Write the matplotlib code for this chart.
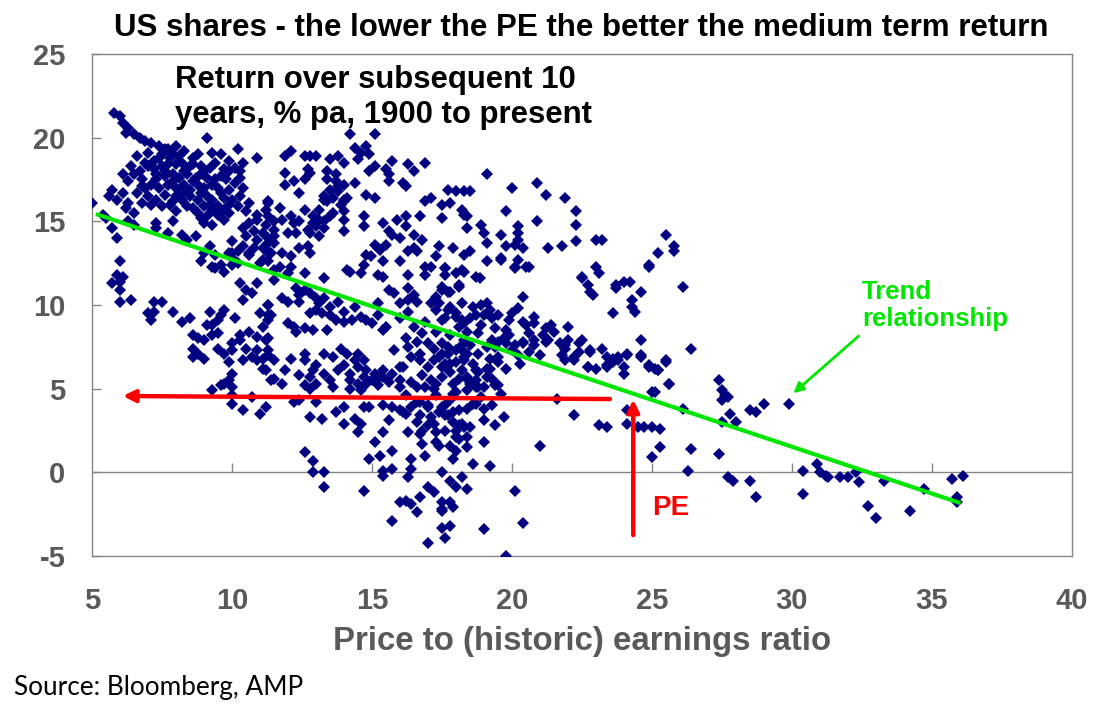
import matplotlib
matplotlib.use("Agg")
import matplotlib.pyplot as plt

# ---------------- data (PE ratio, subsequent 10y return % pa) ----------------
grp_top_left = [
    (5.8,21.5),(6.0,21.3),(6.1,20.9),(6.3,20.6),(6.2,20.3),(6.5,20.2),(6.7,20.0),(6.9,19.8),(7.1,19.7),
    (7.4,19.5),(7.6,19.3),(7.9,19.0),(7.7,19.3),(9.1,20.0),(9.3,19.1),(10.2,19.3),(10.9,18.8),(10.4,18.5),
    (5.0,16.1),(5.7,16.9),(6.1,16.7),(5.6,16.5),(5.4,15.4),(5.5,15.2),(5.7,14.6),(5.9,14.0),(6.3,16.1),
    (6.2,15.8),(6.8,16.1),(7.3,14.9),(7.9,15.0),(7.3,14.6),(7.7,14.3),(8.2,14.2),(8.4,13.9),(8.7,14.1),
    (9.2,13.5),(9.0,13.1),
    (6.7,18.0),(6.5,17.8),(6.8,17.5),(7.2,18.6),(7.4,18.8),(7.5,18.3),(7.2,18.1),(7.7,18.4),(7.8,18.8),
    (8.0,18.4),(8.2,18.5),(8.5,18.3),(8.6,18.4),(8.9,18.3),(9.0,18.0),(9.4,18.5),(9.7,18.1),(9.9,18.0),
    (7.3,17.8),(7.6,17.7),(7.9,17.8),(8.1,17.6),(8.4,17.8),(8.7,17.6),(9.1,17.6),(9.4,17.5),(9.8,17.5),
    (7.1,17.2),(7.4,17.0),(7.7,17.2),(8.0,17.0),(8.3,17.2),(8.5,16.9),(8.8,17.2),(9.0,17.0),(9.3,17.2),
    (9.5,17.0),(9.9,16.9),(6.6,16.7),(7.0,16.5),(7.3,16.3),(7.6,16.6),(8.0,16.5),(8.2,16.3),(8.5,16.5),
    (8.8,16.3),(9.1,16.5),(9.3,16.3),(9.7,16.4),(10.0,16.3),(8.4,15.9),(8.6,15.8),(9.0,15.9),(9.3,15.7),
    (9.5,15.9),(9.1,15.3),(9.5,15.4),(9.9,15.5),(9.0,14.9),(9.3,14.8),(9.7,15.1),(7.5,15.9),(7.8,16.0),
    (7.0,18.3),(7.6,18.0),(8.3,18.0),(8.9,17.8),(9.2,18.2),(8.1,18.9),(8.6,18.8),(7.9,17.4),(8.6,17.4),
    (9.6,17.7),(7.3,17.5),(8.2,16.7),(8.9,16.7),(9.6,16.7),(7.9,16.2),(9.2,16.0),(9.7,15.7),(8.8,15.5),
    (8.0,15.6),(10.1,17.3),(10.3,17.6),(10.1,18.2),(6.9,17.0),(6.3,17.4),(6.9,18.5),
    (6.4,18.3),(6.6,18.9),(7.0,19.1),(7.5,19.0),(8.3,19.2),(8.8,19.0),(9.6,19.0),(9.9,18.6),(10.3,18.0),
    (8.0,19.5),(6.8,17.1),(7.1,16.0),(6.5,15.5),(8.9,15.2),(9.9,16.0),(10.4,17.0),(6.1,17.8),(5.9,16.3),
    (6.5,14.8),(6.3,15.0),
]

grp_upper_mid = [
    (10.2,15.9),(10.3,16.5),(10.6,16.1),(10.5,15.6),(10.9,15.4),(11.2,15.7),(11.3,16.1),(10.6,14.9),
    (10.9,15.1),(11.2,14.8),(10.4,14.6),(10.8,14.4),(11.1,14.3),(11.5,14.5),(10.5,14.1),(10.9,13.9),
    (11.3,14.0),(10.0,13.8),(10.4,13.5),(10.8,13.4),(11.1,13.4),(11.5,13.7),(10.0,13.1),(10.6,13.0),
    (11.3,13.1),(9.4,13.0),(9.9,13.1),(10.0,12.8),(10.2,13.2),(10.6,13.1),(11.1,12.7),(11.3,13.2),
    (9.4,12.2),(9.7,12.0),(10.0,12.4),(10.2,12.5),(11.0,12.5),(11.5,12.1),
    (11.3,16.2),(11.7,15.8),(11.3,15.3),(11.5,15.0),(11.8,15.1),(12.1,15.3),(12.2,14.9),(12.4,15.0),
    (12.6,15.7),(12.9,15.3),(13.1,15.7),(12.9,14.9),(13.1,15.1),(13.3,15.0),(13.5,15.3),(13.3,16.3),
    (13.3,16.5),(14.0,16.2),(14.1,16.4),(14.0,15.6),(13.6,15.5),(12.0,14.3),(12.3,14.3),(12.7,14.5),
    (13.0,14.7),(13.3,14.6),(13.1,14.1),(12.8,14.3),(11.5,14.1),(11.3,13.7),(11.4,13.1),(11.8,13.1),
    (12.1,12.9),(12.4,13.4),(12.7,13.5),(12.8,13.1),(14.0,14.4),(14.0,15.1),(11.3,12.6),(11.7,12.3),
    (12.1,12.3),(12.6,11.9),(13.3,11.6),
    (12.1,19.2),(11.9,18.9),(12.6,18.9),(12.8,18.9),(13.0,18.9),(13.5,18.7),(13.8,18.9),(14.0,18.5),
    (14.4,19.4),(14.5,18.7),(14.6,19.1),(14.8,19.5),(14.9,19.0),(15.1,18.3),(14.9,18.0),(15.5,18.1),
    (15.6,17.8),(15.7,18.6),(15.6,17.4),(16.3,18.4),(16.5,18.0),(16.9,18.5),(14.2,20.2),(15.1,20.2),
    (11.9,17.9),(12.7,18.1),(12.8,17.9),(12.2,17.4),(12.6,17.5),(11.9,17.2),(12.4,16.7),(13.4,18.0),
    (13.4,17.5),(13.7,17.8),(13.7,17.4),(13.8,17.1),(14.0,17.2),(14.4,17.3),(13.5,16.9),(13.8,16.8),
    (13.6,16.4),(13.4,16.2),(14.0,16.3),(13.9,16.0),(14.8,16.6),(15.1,16.4),(16.1,17.3),(16.2,17.1),
]

grp_upper_right_mid = [
    (17.7,16.9),(18.0,16.8),(18.3,16.8),(16.9,16.2),(17.1,16.4),(17.5,16.0),(17.8,16.1),(18.2,15.7),
    (16.7,15.3),(17.5,15.2),(18.3,15.4),(15.9,15.1),(16.2,15.3),(16.2,14.7),(14.7,15.3),(14.7,14.7),
    (15.4,14.9),(15.6,14.4),(15.7,14.2),(16.0,14.0),(16.5,14.2),(16.8,13.9),(16.5,13.4),(16.3,13.2),
    (16.6,13.2),(17.4,13.5),(17.9,13.4),(17.3,12.9),(18.3,13.0),(15.5,13.6),(15.3,13.3),(15.1,13.6),
    (14.8,13.0),(14.95,12.9),(15.2,13.4),(15.4,12.6),(14.7,12.4),(16.0,12.6),(16.9,12.3),(17.1,12.3),
    (17.6,12.2),(18.2,12.1),(14.1,12.1),(14.6,11.9),(15.2,11.8),(16.3,11.8),
]

grp_mid = [
    (11.5,11.5),(12.0,11.9),(14.2,12.0),(15.4,11.7),(16.9,11.8),(17.6,11.8),(18.0,11.9),
    (12.3,11.0),(12.6,10.9),(12.4,10.6),(12.8,10.7),(13.0,10.4),(11.8,10.4),(12.0,10.2),(12.4,10.2),
    (13.1,10.1),(13.3,10.4),(13.8,10.2),(13.5,9.9),(13.0,9.7),(13.2,9.5),(13.5,9.4),(13.7,9.1),
    (12.8,9.5),(11.3,10.0),(11.4,9.4),(12.0,8.9),(12.2,8.7),(12.3,8.4),(12.6,8.6),(12.9,8.5),(13.4,8.5),
    (14.0,9.0),(14.3,9.1),(14.6,9.3),(14.8,9.1),(15.2,9.4),(15.2,10.1),(15.0,8.9),(15.5,8.7),(15.4,8.5),
    (14.4,9.9),(14.0,9.6),
    (15.6,10.9),(15.8,10.7),(16.3,11.0),(16.5,10.6),(16.0,10.1),(16.3,10.3),(16.6,10.2),(17.1,10.1),
    (17.3,10.5),(17.5,10.9),(17.8,10.8),(18.1,11.2),(18.2,10.1),(17.3,9.7),(17.7,9.7),(18.0,9.3),
    (18.2,9.1),(18.3,8.9),(17.5,9.1),(16.5,8.7),(16.8,8.3),(16.2,8.0),(16.6,7.8),(17.0,7.7),(17.2,7.4),
    (17.5,7.1),(17.7,7.5),(18.0,7.3),(18.2,7.6),(17.2,6.7),(16.7,6.7),(17.5,6.3),(17.8,6.5),(18.0,6.6),
    (18.3,6.7),(16.1,6.3),
]

grp_left_low = [
    (6.0,12.6),(6.1,11.7),(5.7,11.3),(6.0,11.4),(5.9,11.8),(6.0,10.9),(6.0,10.2),(6.4,10.3),(7.2,10.2),
    (7.5,10.2),(7.0,9.5),(7.2,9.6),(7.1,9.1),(7.9,9.6),(8.2,9.0),(8.5,9.2),(9.2,9.6),(9.7,9.7),(9.6,9.4),
    (9.5,9.1),(9.1,8.8),(9.3,8.8),(10.1,9.2),
    (8.6,8.2),(8.8,8.0),(9.0,7.9),(8.6,7.4),(8.8,7.1),(8.6,6.9),(9.0,6.8),(9.3,8.2),(9.5,8.3),(9.5,7.4),
    (9.7,7.1),(10.0,7.7),(10.0,7.3),(10.3,8.2),(10.3,7.9),(10.6,8.4),(10.9,8.1),(11.1,8.7),(11.2,7.9),
    (11.3,8.0),(10.5,7.4),(10.7,6.9),(10.4,6.7),(10.9,7.3),(11.1,6.8),(11.3,7.0),(11.1,6.2),(11.2,6.1),
    (10.9,6.7),(9.9,6.6),(10.0,5.9),(9.9,5.5),(10.0,5.1),(9.7,5.3),(9.6,5.2),(9.3,4.9),(11.5,5.6),
    (10.0,4.6),(10.0,4.1),(10.4,3.7),(10.7,4.5),(11.2,3.9),(11.0,3.5),
    (10.3,11.3),(10.5,10.9),(10.7,10.7),(10.9,11.3),(10.4,10.3),(11.3,10.0),(11.0,9.5),(11.3,9.1),
    (11.3,9.4),(8.9,12.6),(9.3,12.3),(9.6,12.4),
]

grp_low_mid = [
    (11.3,7.3),(11.5,6.7),(11.4,5.5),(11.8,5.3),(11.9,6.1),(12.1,6.8),(12.6,7.1),(12.6,6.7),(12.4,5.8),
    (12.8,5.7),(12.9,6.1),(13.0,6.4),(13.3,7.1),(13.6,6.9),(13.3,5.9),(13.0,5.3),(12.8,5.0),(12.6,5.2),
    (13.5,5.5),(13.6,5.1),(13.8,6.1),(13.9,7.4),(14.1,7.1),(14.5,7.1),(14.7,6.7),(14.5,6.3),(14.8,6.1),
    (15.1,5.9),(15.3,5.7),(15.7,5.9),(15.6,5.4),(15.2,5.2),(14.8,5.3),(14.5,5.3),(14.2,5.5),(14.2,5.0),
    (14.6,4.9),(16.0,5.1),(16.0,6.3),(14.2,5.9),(14.0,6.4),(14.7,5.7),(15.0,5.5),(15.4,6.1),(14.4,6.7),
    (12.2,4.2),(12.4,4.3),(13.0,4.2),(12.8,3.3),(13.2,3.2),(13.7,3.6),(14.0,3.9),(14.0,2.9),(14.5,2.4),
    (14.7,3.9),(14.9,3.9),(15.4,4.0),(15.4,2.4),(15.7,3.9),(16.0,3.7),(16.2,3.5),(16.3,2.4),(16.8,2.5),
    (16.6,4.2),(17.0,3.9),(17.1,3.3),(17.2,2.9),(17.5,3.9),(17.7,3.4),(17.9,3.0),(18.2,2.9),(17.6,2.5),
    (18.0,2.1),(15.1,1.8),(16.8,1.7),(17.4,1.6),
    (14.4,3.2),(14.6,2.9),(15.6,3.1),(15.7,1.3),(15.3,1.0),(14.9,0.8),(12.6,1.2),(12.9,0.7),(12.9,0.0),
    (13.3,0.0),(13.3,-0.9),(14.7,-1.1),(15.4,0.1),(15.7,0.2),(15.4,-0.2),(16.4,0.8),(16.4,0.2),
    (16.3,-0.3),(16.7,2.3),(17.3,1.8),(17.3,2.4),(17.5,0.0),(17.0,-0.9),(17.2,-1.2),(16.7,-1.5),
    (16.0,-1.8),(16.2,-1.7),(16.4,-1.9),(16.6,-2.4),(15.7,-2.9),(17.5,-1.8),(17.5,-2.3),(17.5,-3.3),
    (17.6,-3.9),(17.0,-4.2),
]

grp_mid_right_low = [
    (17.8,-1.8),(17.5,-2.2),(17.9,-2.1),(18.0,-0.9),(18.4,-1.0),(18.2,-0.3),(17.8,-3.2),(19.0,-3.4),
    (20.4,-3.0),(20.1,-1.1),(19.8,-5.0),
    (18.6,0.5),(19.2,0.4),(17.9,0.8),(18.0,1.3),(17.8,1.6),(18.1,2.0),(18.4,2.1),(18.0,2.5),(18.3,2.7),
    (16.6,3.0),(17.0,2.8),(17.6,3.4),(17.9,3.6),(18.1,2.8),(18.5,2.7),(19.0,3.1),(19.4,2.8),(19.7,3.3),
    (19.0,3.8),(18.7,4.1),(16.1,3.6),(21.0,1.6),(22.2,3.4),(21.6,4.4),
    (15.4,5.7),(16.0,5.5),(16.4,5.4),(16.6,5.1),(16.9,5.1),(17.2,5.0),(17.3,5.3),(17.5,5.7),(17.8,6.0),
    (18.1,5.6),(18.4,5.6),(18.7,5.5),(18.8,5.1),(18.4,4.9),(18.0,4.8),(17.8,4.3),(17.6,4.0),(17.4,3.6),
    (17.0,4.0),(16.7,4.2),(16.4,3.9),(16.7,3.4),(18.4,3.8),(18.1,3.7),(19.0,5.1),(19.4,5.2),(19.6,4.7),
    (19.1,5.7),(18.8,6.0),(18.6,6.5),(19.2,6.2),(19.5,6.6),(18.4,7.1),(18.8,7.1),(18.2,7.3),(19.1,7.5),
    (19.4,7.5),(19.8,7.7),(20.1,7.6),(20.4,7.8),(20.8,7.6),(21.2,7.8),(21.9,7.6),(21.9,6.7),(22.2,6.9),
    (22.4,7.7),(17.4,6.9),(16.7,7.1),(17.6,6.5),(17.7,7.1),
    (15.8,7.3),(16.3,7.5),(16.4,6.9),(17.0,6.3),(17.9,5.3),(18.5,5.3),(19.3,5.6),(16.8,5.8),(17.1,5.5),
    (16.2,4.6),(17.3,4.6),(18.9,4.5),(19.3,4.0),(19.8,6.2),(20.3,6.5),(20.6,7.2),(21.0,7.0),
    (16.9,1.0),(18.4,1.5),(19.0,1.8),(17.8,-0.5),
]

grp_right_mid = [
    (17.6,12.2),(18.3,12.0),(18.7,11.7),(18.85,11.6),(19.1,12.6),(20.1,12.2),(20.5,12.3),(19.6,12.7),
    (17.5,11.1),(18.1,11.1),(17.7,10.8),
    (23.0,12.3),(23.1,11.9),(22.5,11.7),(22.7,11.2),(22.8,10.8),(23.7,11.2),(23.7,11.0),(24.0,11.4),
    (24.2,11.4),(24.6,10.8),(24.3,10.3),(24.3,9.9),(24.4,9.6),(24.9,12.4),(26.1,11.1),(23.6,9.5),
    (20.4,10.5),(20.2,9.8),(20.0,9.5),(17.4,10.1),(17.8,9.9),(18.0,9.5),(17.6,9.2),(18.6,9.9),(18.9,10.0),
    (19.1,10.1),(18.7,9.4),(19.0,9.4),(19.3,9.2),(19.5,9.4),(18.9,8.8),(19.4,8.6),(19.8,8.5),(19.9,8.2),
    (19.7,8.0),(19.5,7.8),(19.3,7.9),(20.4,9.0),(20.5,8.8),(20.8,9.3),(20.8,8.9),(20.6,8.3),(20.4,7.7),
    (20.8,7.9),(21.1,8.2),(21.2,8.6),(21.4,8.8),(21.5,8.4),(21.3,7.9),(21.7,7.7),(21.9,7.4),(22.0,8.7),
    (22.0,7.9),(21.8,7.0),(22.2,6.7),(22.4,7.2),(22.5,7.9),(22.8,7.3),(22.7,6.3),(23.0,6.2),(23.2,7.4),
    (23.4,6.9),(23.6,6.6),(23.4,6.3),(23.8,6.9),(24.1,7.0),(24.0,6.3),(24.0,5.9),(24.6,7.9),(24.6,6.9),
    (24.9,6.4),(25.2,6.1),(25.5,6.7),(25.6,5.3),(25.0,4.8),(26.4,7.4),(20.0,7.3),(20.2,7.0),(19.5,6.9),
    (19.2,6.8),(19.1,6.2),(19.5,5.2),(18.7,5.1),(18.4,5.7),(18.7,6.1),(18.2,6.1),(18.3,6.9),(17.6,6.3),
    (17.5,7.7),(17.8,8.2),(18.3,7.9),(18.5,7.6),(18.4,8.4),(18.1,8.7),(17.9,4.7),(18.6,4.1),
    (19.9,9.1),(19.2,9.7),(18.5,9.2),(18.8,8.3),(17.3,8.4),(16.9,9.0),(16.0,9.2),(16.3,9.6),
]

grp_upper_right = [
    (19.1,17.8),(18.5,16.8),(20.0,17.0),(20.9,17.3),(21.2,16.6),(21.9,16.4),(18.4,15.3),(19.8,15.6),
    (20.9,15.0),(22.3,15.6),(22.3,14.8),(18.4,14.6),(18.9,14.8),(19.0,14.3),(19.6,14.2),(20.2,14.7),
    (20.2,14.3),(20.2,13.9),(20.1,13.6),(19.1,13.7),(19.8,13.5),(20.4,13.4),(21.3,13.4),(21.8,13.5),
    (22.3,13.8),(23.0,13.9),(23.2,13.9),(18.5,13.2),(19.6,12.8),(20.2,12.7),(20.1,12.3),(20.6,12.3),
    (25.5,14.2),(25.8,13.5),(25.8,13.2),(25.2,13.1),(24.9,12.3),(22.5,11.6),(22.9,10.6),
]

grp_high_pe = [
    (24.1,3.7),(23.1,2.8),(23.4,2.7),(24.1,2.9),(24.5,2.7),(24.7,2.7),(25.0,2.7),(25.3,2.6),(25.3,1.5),
    (25.0,0.9),(25.1,4.8),(25.6,5.3),(25.5,6.6),(24.9,6.3),(25.2,6.1),(24.6,7.0),(24.1,7.1),(23.8,6.7),
    (23.6,6.8),(23.4,6.4),(22.7,6.3),(22.8,7.2),(25.1,6.2),
    (26.1,3.8),(26.4,1.4),(26.3,0.1),(27.4,5.5),(27.5,4.9),(27.6,4.6),(27.5,4.3),(27.7,4.5),(27.8,3.5),
    (27.5,3.0),(28.0,3.0),(27.4,1.1),(27.7,-0.3),(27.9,-0.5),(28.5,-0.5),(28.7,-1.5),(28.5,3.7),
    (28.7,3.6),(29.0,4.1),(29.9,4.1),(30.4,0.1),(30.4,-1.3),(30.9,0.5),(31.0,0.0),(31.2,-0.2),
    (31.3,-0.3),(31.7,-0.3),(32.0,-0.3),(32.3,0.0),(32.4,-0.6),(32.7,-2.0),(33.0,-2.7),(33.3,-0.5),
    (34.2,-2.3),(34.7,-1.0),(35.7,-0.4),(36.1,-0.2),(35.9,-1.5),(35.9,-1.8),
]

trend_pe = [5.14, 36.02]
trend_ret = [15.44, -1.84]

x_ticks = [5, 10, 15, 20, 25, 30, 35, 40]
y_ticks = [-5, 0, 5, 10, 15, 20, 25]

title = "US shares - the lower the PE the better the medium term return"
subtitle = "Return over subsequent 10\nyears, % pa, 1900 to present"
x_label = "Price to (historic) earnings ratio"
source = "Source: Bloomberg, AMP"

# ---------------- style ----------------
plt.rcParams["font.family"] = ["Liberation Sans", "DejaVu Sans"]
plt.rcParams["axes.unicode_minus"] = False

NAVY = "#000080"
GREEN = "#00e600"
RED = "#ff0000"
GRAY = "#868686"
TICKGRAY = "#595959"

fig = plt.figure(figsize=(11.08, 7.11), dpi=100)
ax = fig.add_axes([92/1108, 1-556/711, (1072-92)/1108, (556-54)/711])
ax.set_xlim(5, 40)
ax.set_ylim(-5, 25)

for s in ax.spines.values():
    s.set_color(GRAY)
    s.set_linewidth(1.0)

groups = [grp_top_left, grp_upper_mid, grp_upper_right_mid, grp_mid, grp_left_low,
          grp_low_mid, grp_mid_right_low, grp_right_mid, grp_upper_right, grp_high_pe]
pts = [p for g in groups for p in g]
xs = [p[0] for p in pts]
ys = [p[1] for p in pts]
ax.plot(xs, ys, linestyle="none", marker="D", markersize=5.8, color=NAVY,
        markeredgewidth=0, zorder=3)

# zero line with upward tick marks
ax.axhline(0, color=GRAY, lw=1.0, zorder=1)
ax.vlines(x_ticks[1:-1], 0, 0.55, color=GRAY, lw=1.0, zorder=1)

ax.set_xticks(x_ticks)
ax.set_yticks(y_ticks)
ax.tick_params(axis="x", length=0, pad=22, labelsize=21, labelcolor=TICKGRAY)
ax.tick_params(axis="y", direction="in", length=6.5, width=1, color=GRAY, pad=19,
               labelsize=21, labelcolor=TICKGRAY)
for lab in ax.get_xticklabels() + ax.get_yticklabels():
    lab.set_fontweight("bold")

ax.set_xlabel(x_label, fontsize=23.8, fontweight="bold", color=TICKGRAY, labelpad=8)

# trend line
ax.plot(trend_pe, trend_ret, color=GREEN, lw=3, zorder=4, solid_capstyle="butt")

# red arrows
ax.annotate("", xy=(6.1, 4.56), xytext=(23.5, 4.38),
            arrowprops=dict(arrowstyle="-|>,head_length=0.7,head_width=0.35", color=RED, lw=3.2,
                            shrinkA=0, shrinkB=0), zorder=5)
ax.annotate("", xy=(24.33, 4.35), xytext=(24.33, -3.75),
            arrowprops=dict(arrowstyle="-|>,head_length=0.7,head_width=0.35", color=RED, lw=3.2,
                            shrinkA=0, shrinkB=0), zorder=5)
ax.text(25.0, -2.15, "PE", color=RED, fontsize=20, fontweight="bold", ha="left", va="center")

# green annotation
ax.annotate("", xy=(30.05, 4.73), xytext=(32.38, 8.14),
            arrowprops=dict(arrowstyle="-|>,head_length=0.6,head_width=0.3", color=GREEN, lw=2,
                            shrinkA=0, shrinkB=0), zorder=5)
ax.text(32.5, 9.95, "Trend\nrelationship", color=GREEN, fontsize=18.5, fontweight="bold",
        ha="left", va="center", linespacing=1.15)

ax.text(7.97, 22.4, subtitle, color="black", fontsize=22.4, fontweight="bold",
        ha="left", va="center", linespacing=1.2, zorder=6)

fig.text(581/1108, 1-28/711, title, ha="center", va="center", fontsize=22.5, fontweight="bold")
fig.text(14/1108, 1-688/711, source, ha="left", va="center", fontsize=18.8,
         family=["Lato", "DejaVu Sans"], color="black")

fig.savefig("out.png", dpi=100)
